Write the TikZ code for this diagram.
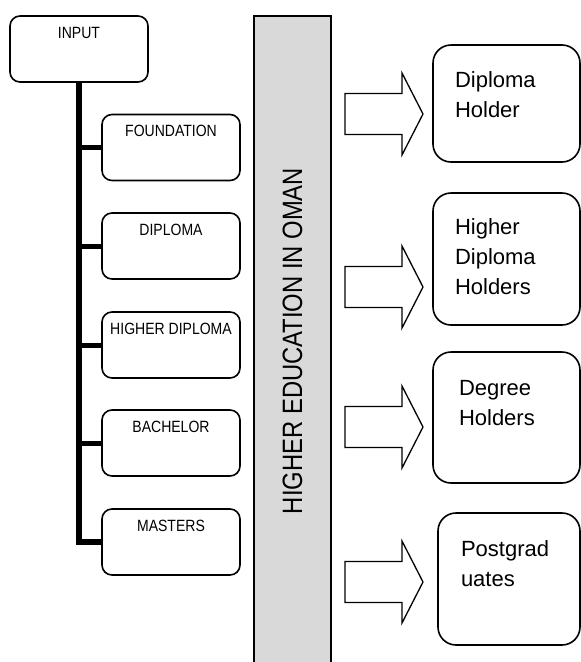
\documentclass[tikz,border=0pt]{standalone}
\usepackage{fontspec}
\setmainfont{Liberation Sans}
\newfontfamily\narrowfont{Liberation Sans}[FakeStretch=0.86]
\newfontfamily\barfont{Liberation Sans}[FakeStretch=0.85]
\definecolor{barfill}{RGB}{217,217,217}
\tikzset{
  lbox/.style={draw, line width=1.6pt, rounded corners=10pt, minimum width=138pt,
    inner xsep=2pt, inner ysep=0pt, text height=22pt, text depth=44pt,
    font=\narrowfont\fontsize{16.3}{19}\selectfont},
  rbox/.style={draw, line width=1.6pt, rounded corners=18pt, inner ysep=0pt,
    font=\fontsize{22}{30}\selectfont},
  trunk/.style={line width=5.5pt},
  branch/.style={line width=5pt},
  blockarrow/.pic={\draw[line width=1.3pt, line join=miter]
    (0,-20.5) -- (57,-20.5) -- (57,-41) -- (78,0) -- (57,41) -- (57,20.5) -- (0,20.5) -- cycle;}
}
\newcommand{\twolines}[3]{\makebox[#1][l]{\vtop{\hbox{#2}\hbox{#3}}}}
\newcommand{\threelines}[4]{\makebox[#1][l]{\vtop{\hbox{#2}\hbox{#3}\hbox{#4}}}}
\begin{document}
\begin{tikzpicture}[x=1pt,y=-1pt]
\useasboundingbox (0,0) rectangle (581,662);
% gray bar
\fill[barfill] (254,16) rectangle (331,662);
\draw[line width=1.8pt] (254,663) -- (254,16) -- (331,16) -- (331,663);
\node[rotate=90, font=\barfont\fontsize{28}{32}\selectfont, inner sep=0pt] (bar) at (292.5,341) {HIGHER EDUCATION IN OMAN};
% left boxes
\node[lbox] (input) at (79,49) {INPUT};
\node[lbox] (found) at (171,147.5) {FOUNDATION};
\node[lbox] (dipl) at (171,246) {DIPLOMA};
\node[lbox] (hdipl) at (171,345) {HIGHER DIPLOMA};
\node[lbox] (bach) at (171,443) {BACHELOR};
\node[lbox] (mast) at (171,542) {MASTERS};
% connectors
\draw[trunk] (input.south) |- (mast.west);
\draw[branch] (found.west) -- (found.west -| input.south);
\draw[branch] (dipl.west) -- (dipl.west -| input.south);
\draw[branch] (hdipl.west) -- (hdipl.west -| input.south);
\draw[branch] (bach.west) -- (bach.west -| input.south);
% arrows
\pic at (345,114) {blockarrow};
\pic at (345,287) {blockarrow};
\pic at (345,427) {blockarrow};
\pic at (345,582) {blockarrow};
% right boxes
\node[rbox, inner xsep=22pt, text height=42pt, text depth=75pt] (r1) at (506.5,103.5) {\twolines{103pt}{Diploma}{Holder}};
\node[rbox, inner xsep=22pt, text height=41pt, text depth=91pt] (r2) at (506.5,259) {\threelines{103pt}{Higher}{Diploma}{Holders}};
\node[rbox, inner xsep=26pt, text height=43pt, text depth=88pt] (r3) at (506.5,417.5) {\twolines{95pt}{Degree}{Holders}};
\node[rbox, inner xsep=23pt, text height=43pt, text depth=89pt] (r4) at (509,579) {\twolines{96pt}{Postgrad}{uates}};
\end{tikzpicture}
\end{document}
